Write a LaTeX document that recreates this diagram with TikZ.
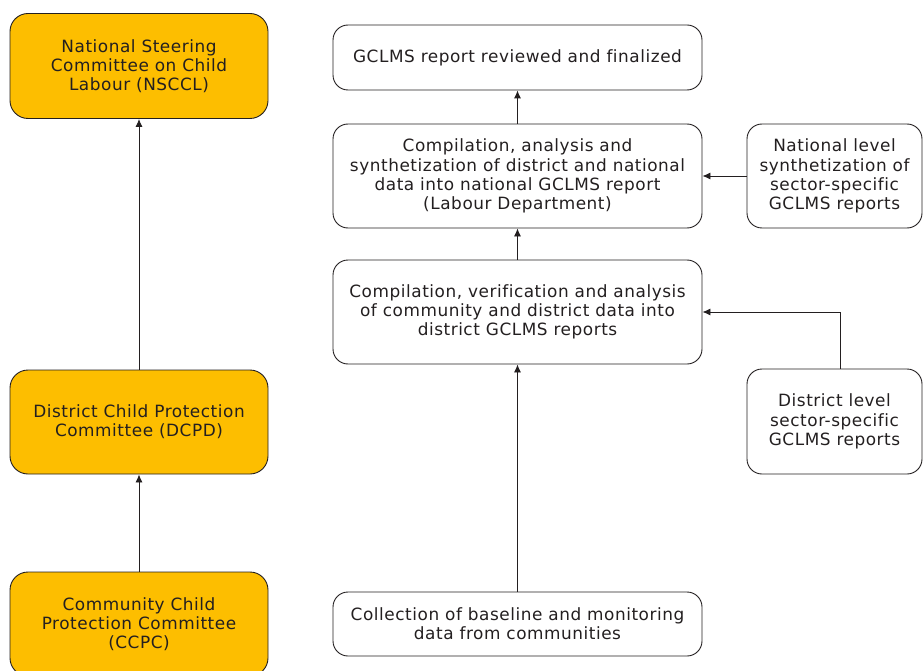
\documentclass[tikz,border=0pt]{standalone}
\usepackage{fontspec}
\setmainfont{DejaVu Sans}[LetterSpace=3.2,Ligatures={NoCommon}]
\usetikzlibrary{arrows.meta}
\definecolor{orng}{HTML}{FDBE00}
\definecolor{txt}{HTML}{231F20}
\begin{document}
\begin{tikzpicture}[x=1pt,y=-1pt,
  box/.style={draw=txt,line width=0.9pt,rounded corners=15pt,align=center,text=txt,
    font=\fontsize{16.9}{19.3}\selectfont,inner sep=0pt},
  obox/.style={box,fill=orng,rounded corners=18pt},
  arr/.style={draw=txt,line width=0.9pt,-{Latex[length=8pt,width=7pt]}}]
\useasboundingbox (0,0) rectangle (923,671);
% left column
\node[obox,minimum width=258pt,minimum height=105pt] (ns) at (139,66) {National Steering\\Committee on Child\\Labour (NSCCL)};
\node[obox,minimum width=258pt,minimum height=104pt] (dc) at (139,422) {District Child Protection\\Committee (DCPD)};
\node[obox,minimum width=258pt,minimum height=104pt] (cc) at (139,624) {Community Child\\Protection Committee\\(CCPC)};
% right column
\node[box,minimum width=369pt,minimum height=65pt] (fin) at (517.5,57.5) {GCLMS report reviewed and finalized};
\node[box,minimum width=369pt,minimum height=104pt] (nat) at (517.5,176) {Compilation, analysis and\\synthetization of district and national\\data into national GCLMS report\\(Labour Department)};
\node[box,minimum width=369pt,minimum height=104pt] (dis) at (517.5,312) {Compilation, verification and analysis\\of community and district data into\\district GCLMS reports};
\node[box,minimum width=369pt,minimum height=64pt] (col) at (517.5,624) {Collection of baseline and monitoring\\data from communities};
\node[box,minimum width=175pt,minimum height=104pt] (nl) at (834.5,176) {National level\\synthetization of\\sector-specific\\GCLMS reports};
\node[box,minimum width=175pt,minimum height=105pt] (dl) at (834.5,421.5) {District level\\sector-specific\\GCLMS reports};
% connectors
\draw[arr] (dc) -- (ns);
\draw[arr] (cc) -- (dc);
\draw[arr] (nat) -- (fin);
\draw[arr] (dis) -- (nat);
\draw[arr] (col) -- (dis);
\draw[arr] (nl) -- (nat);
\draw[arr] (dl.north -| 840,0) |- (dis.east);
\end{tikzpicture}
\end{document}
